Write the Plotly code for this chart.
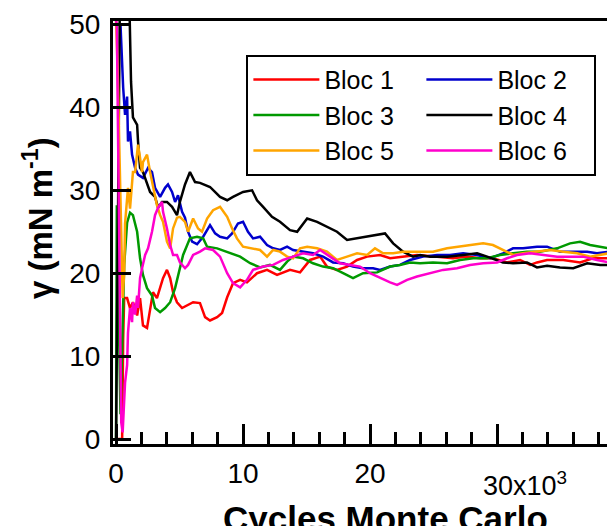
import plotly.graph_objects as go

# Monte Carlo cycles (x 10^3) and surface tension gamma (mN/m)
bloc1_cycles = [0, 0.48, 0.56, 0.64, 0.87, 1.10, 1.33, 1.66, 1.89, 2.12, 2.44, 2.68, 2.91, 3.22, 3.47, 3.70, 4.01, 4.26, 4.49, 4.80, 5.20, 5.59, 6.07, 6.61, 7.01, 7.40, 7.96, 8.35, 8.75, 9.21, 9.77, 10.31, 11.10, 11.89, 12.68, 13.70, 14.49, 15.28, 16.07, 16.61, 17.40, 18.19, 18.98, 19.77, 20.79, 21.58, 22.60, 23.70, 25.28, 26.54, 27.64, 28.66, 29.68, 30.79, 31.82, 32.61, 33.15, 33.94, 35.21, 36.54, 37.56, 38.8]
bloc1_gamma = [0, 0, 12, 17.0, 17.0, 15.8, 16.5, 14.9, 17.0, 13.7, 13.4, 15.8, 17.7, 17.0, 18.2, 19.4, 20.4, 19.4, 17.7, 16.5, 15.8, 16.1, 16.5, 16.4, 14.7, 14.3, 14.7, 15.2, 17.1, 18.8, 19.2, 18.9, 20.0, 20.4, 19.8, 20.4, 20.1, 21.6, 22.0, 20.8, 20.4, 20.8, 21.6, 22.0, 22.2, 21.8, 22.0, 22.2, 22.0, 21.8, 22.0, 21.8, 21.8, 21.3, 21.6, 21.0, 21.3, 21.6, 21.6, 21.3, 21.8, 21.8]

bloc2_cycles = [0, 0.35, 0.56, 0.71, 0.87, 0.94, 1.10, 1.26, 1.50, 1.73, 2.12, 2.52, 2.83, 3.07, 3.47, 3.86, 4.09, 4.41, 4.65, 4.88, 5.20, 5.43, 5.67, 5.99, 6.38, 6.86, 7.40, 7.80, 8.19, 8.75, 9.14, 9.60, 10.00, 10.39, 10.79, 11.34, 11.89, 12.37, 12.91, 13.47, 13.94, 14.73, 15.51, 16.30, 17.09, 17.88, 18.66, 19.45, 20.24, 20.79, 21.58, 22.36, 23.15, 24.17, 25.28, 26.30, 27.33, 28.43, 29.45, 30.47, 31.26, 32.05, 33.15, 33.94, 34.96, 36.00, 37.10, 37.87, 38.8]
bloc2_gamma = [50, 50, 42.4, 39.1, 41.3, 35.9, 37.1, 34.3, 32.7, 31.9, 31.5, 32.7, 32.2, 30.3, 29.2, 30.3, 30.7, 29.8, 28.6, 29.4, 27.4, 26.7, 25.0, 23.8, 23.5, 24.4, 25.8, 24.8, 24.4, 24.2, 24.8, 26.0, 26.2, 25.0, 24.2, 24.4, 23.4, 23.0, 22.8, 23.2, 22.8, 22.6, 22.4, 22.0, 21.3, 21.2, 20.8, 20.6, 20.6, 20.4, 20.8, 21.0, 21.6, 22.0, 22.2, 22.2, 22.4, 22.2, 21.8, 22.4, 23.0, 23.0, 23.2, 23.2, 22.6, 22.6, 22.6, 22.4, 22.6]

bloc3_cycles = [0, 0.06, 0.35, 0.64, 0.87, 1.10, 1.33, 1.66, 1.89, 2.12, 2.44, 2.83, 3.07, 3.47, 3.86, 4.26, 4.65, 5.03, 5.28, 5.82, 6.38, 6.86, 7.17, 7.96, 8.98, 9.77, 10.56, 11.34, 12.12, 12.91, 13.47, 13.94, 14.73, 15.51, 16.30, 17.09, 17.88, 18.66, 19.45, 20.56, 21.58, 22.36, 23.15, 23.94, 24.96, 26.07, 27.09, 28.12, 29.22, 30.24, 31.26, 32.36, 33.38, 34.73, 35.75, 36.54, 37.33, 38.13, 38.8]
bloc3_gamma = [0, 28.2, 3, 21.0, 26.1, 27.3, 27.0, 25.0, 21.8, 19.8, 18.2, 17.3, 15.8, 15.3, 15.8, 16.5, 18.2, 20.6, 22.2, 24.2, 24.4, 24.2, 23.2, 23.0, 22.4, 22.0, 21.2, 20.7, 21.0, 20.4, 21.4, 22.0, 21.8, 21.2, 20.8, 20.6, 20.0, 19.4, 20.0, 20.1, 20.8, 21.0, 21.3, 21.2, 21.3, 21.2, 21.6, 21.8, 21.8, 22.2, 22.4, 22.6, 22.6, 23.0, 23.6, 23.8, 23.4, 23.2, 23.0]

bloc4_cycles = [0, 0.29, 1.07, 1.18, 1.33, 1.66, 1.73, 1.89, 2.12, 2.44, 2.68, 3.07, 3.31, 3.62, 4.01, 4.41, 4.80, 5.03, 5.43, 5.82, 6.22, 6.61, 7.40, 8.19, 8.75, 9.21, 10.00, 10.71, 11.10, 11.58, 12.28, 12.91, 13.70, 14.26, 15.05, 15.83, 16.61, 17.40, 18.19, 18.98, 19.77, 20.56, 21.18, 21.82, 22.60, 23.39, 23.94, 24.73, 26.07, 27.33, 28.43, 29.22, 30.47, 31.26, 32.36, 33.15, 33.94, 34.96, 36.00, 37.10, 38.13, 38.8]
bloc4_gamma = [0, 51, 51, 43.1, 38.8, 37.9, 35.9, 32.7, 32.2, 30.7, 29.8, 29.2, 27.9, 28.6, 28.6, 28.0, 27.0, 28.6, 30.7, 32.2, 31.0, 30.9, 30.4, 29.2, 28.8, 29.2, 29.8, 30.0, 28.8, 28.0, 26.8, 26.2, 25.2, 25.0, 26.6, 26.2, 25.6, 25.0, 24.0, 24.2, 24.4, 24.6, 24.8, 23.6, 22.6, 22.0, 22.2, 22.0, 22.0, 22.2, 22.4, 22.0, 21.3, 21.2, 21.3, 20.7, 20.9, 20.7, 20.6, 21.2, 21.0, 21.0]

bloc5_cycles = [0, 0.12, 0.52, 0.64, 0.71, 0.87, 0.94, 1.10, 1.26, 1.33, 1.50, 1.66, 1.73, 1.89, 2.05, 2.12, 2.44, 2.68, 2.91, 3.22, 3.47, 3.70, 4.01, 4.26, 4.49, 4.80, 5.03, 5.43, 5.67, 6.07, 6.46, 6.77, 7.17, 7.64, 8.19, 8.75, 9.14, 9.52, 10.00, 10.79, 11.34, 11.89, 12.37, 12.91, 13.47, 13.94, 14.49, 15.05, 15.83, 16.61, 17.40, 18.19, 18.98, 19.77, 20.39, 21.03, 21.82, 22.60, 23.94, 24.96, 26.07, 27.09, 28.12, 28.91, 29.68, 30.47, 31.26, 32.05, 33.15, 34.17, 35.21, 36.31, 37.33, 38.8]
bloc5_gamma = [50.5, 45, 17, 20, 26.0, 28.6, 30.3, 27.8, 31.0, 32.2, 32.2, 34.3, 35.5, 33.9, 32.2, 33.4, 34.3, 32.2, 30.3, 28.2, 27.0, 26.2, 23.8, 23.0, 25.4, 26.7, 26.8, 26.2, 25.0, 26.6, 25.4, 25.0, 26.6, 27.6, 28.0, 26.8, 25.4, 24.2, 23.2, 23.0, 22.8, 22.0, 22.8, 22.6, 22.0, 21.8, 23.0, 23.2, 23.0, 22.6, 21.6, 22.0, 22.4, 22.2, 23.0, 22.4, 22.4, 22.6, 22.6, 22.6, 23.0, 23.2, 23.4, 23.6, 23.4, 22.8, 22.2, 22.4, 22.6, 22.8, 22.6, 22.4, 22.0, 22.4]

bloc6_cycles = [0, 0.06, 0.41, 0.52, 0.71, 0.87, 0.94, 1.10, 1.26, 1.33, 1.50, 1.66, 1.73, 1.89, 2.05, 2.29, 2.52, 2.83, 3.07, 3.31, 3.62, 3.70, 4.01, 4.26, 4.49, 4.80, 5.03, 5.43, 5.67, 6.07, 6.61, 7.01, 7.64, 8.19, 8.75, 9.21, 9.77, 10.31, 10.79, 11.58, 12.37, 13.15, 13.94, 14.73, 15.51, 16.07, 16.85, 17.64, 18.43, 19.21, 20.00, 20.79, 21.58, 22.13, 22.92, 23.70, 24.73, 25.75, 26.85, 27.87, 28.91, 30.01, 30.79, 31.58, 32.61, 33.63, 34.73, 35.75, 36.77, 37.87, 38.8]
bloc6_gamma = [50.5, 50, 2, 0.8, 6.8, 8.9, 12.8, 15.8, 14.1, 16.5, 15.0, 17.3, 15.8, 19.4, 20.6, 22.2, 23.0, 25.0, 27.0, 27.9, 28.6, 27.4, 25.4, 23.4, 22.2, 22.2, 21.3, 20.6, 21.0, 22.2, 22.6, 23.0, 22.8, 22.0, 20.0, 18.8, 18.3, 19.2, 20.4, 20.8, 21.0, 21.6, 22.0, 22.4, 22.2, 22.8, 22.0, 21.2, 21.0, 20.8, 20.0, 19.4, 18.9, 18.6, 19.2, 19.6, 20.0, 20.4, 20.6, 21.0, 21.2, 21.3, 21.8, 22.2, 22.4, 22.2, 22.0, 22.0, 22.0, 21.6, 21.3]

names = ["Bloc 1", "Bloc 2", "Bloc 3", "Bloc 4", "Bloc 5", "Bloc 6"]
colors = ["#ff0000", "#0000cc", "#009900", "#000000", "#ffa500", "#ff00cc"]
series_x = [bloc1_cycles, bloc2_cycles, bloc3_cycles, bloc4_cycles, bloc5_cycles, bloc6_cycles]
series_y = [bloc1_gamma, bloc2_gamma, bloc3_gamma, bloc4_gamma, bloc5_gamma, bloc6_gamma]

x_tickvals = [0, 10, 20, 30]
x_ticktext = ["0", "10", "20", ""]
y_tickvals = [0, 10, 20, 30, 40, 50]

FONT = "Liberation Sans"

fig = go.Figure()
for nm, col, xs, ys in zip(names, colors, series_x, series_y):
    fig.add_trace(go.Scatter(x=xs, y=ys, mode="lines", name=nm,
                             line=dict(color=col, width=2.5)))

fig.update_layout(
    width=607, height=526,
    margin=dict(l=113, r=0, t=21, b=82, autoexpand=False),
    paper_bgcolor="white", plot_bgcolor="white",
    font=dict(family=FONT, size=28, color="black"),
    showlegend=True,
    legend=dict(
        x=0.27, y=0.92, xanchor="left", yanchor="top",
        orientation="h", entrywidth=92, entrywidthmode="pixels",
        bordercolor="black", borderwidth=2, bgcolor="white",
        font=dict(family=FONT, size=25, color="black"),
        tracegroupgap=0, itemwidth=66,
    ),
    xaxis=dict(
        range=[-0.24, 38.66], showgrid=False, zeroline=False, automargin=False,
        showline=True, linecolor="black", linewidth=3, mirror=True,
        ticks="inside", ticklen=20, tickwidth=3, tickcolor="black",
        tickvals=x_tickvals, ticktext=x_ticktext,
        tickfont=dict(family=FONT, size=28),
        ticklabelstandoff=2,
        minor=dict(dtick=2, ticks="inside", ticklen=12, tickwidth=3, tickcolor="black"),
    ),
    yaxis=dict(
        range=[-0.6, 50.42], showgrid=False, zeroline=False, automargin=False,
        showline=True, linecolor="black", linewidth=3, mirror=True,
        ticks="inside", ticklen=18, tickwidth=3, tickcolor="black",
        tickvals=y_tickvals,
        tickfont=dict(family=FONT, size=28),
        ticklabelstandoff=4,
    ),
    annotations=[
        dict(x=30, y=0, xref="x", yref="paper", yshift=-21, xshift=-16,
             text="30x10<sup>3</sup>", showarrow=False, xanchor="left", yanchor="top",
             font=dict(family=FONT, size=27, color="black")),
        dict(x=0.551, y=0, xref="paper", yref="paper", yshift=-53,
             text="<b>Cycles Monte Carlo</b>", showarrow=False, xanchor="center", yanchor="top",
             font=dict(family=FONT, size=35, color="black")),
        dict(x=0, y=0.534, xref="paper", yref="paper", xshift=-75,
             text="<b>γ (mN m<sup>-1</sup>)</b>", showarrow=False, textangle=-90,
             xanchor="center", yanchor="middle",
             font=dict(family=FONT, size=33, color="black")),
    ],
)

fig.write_html("out.html", config={"displayModeBar": False, "staticPlot": True})

# remove the default 8px page margin so the figure sits at the window origin
with open("out.html", "r", encoding="utf-8") as fh:
    html = fh.read()
html = html.replace("<head>", "<head><style>html,body{margin:0;padding:0;overflow:hidden;}</style>", 1)
with open("out.html", "w", encoding="utf-8") as fh:
    fh.write(html)
